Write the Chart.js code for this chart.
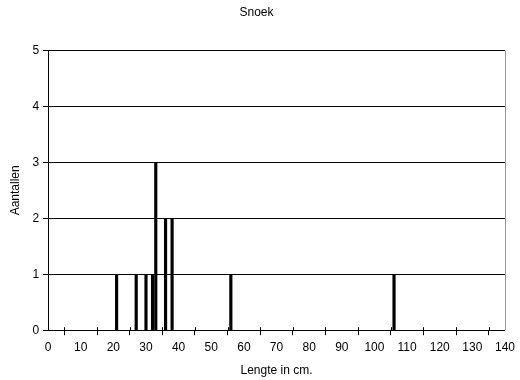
<!DOCTYPE html>
<html>
<head>
<meta charset="utf-8">
<script src="https://cdn.jsdelivr.net/npm/chart.js@4/dist/chart.umd.min.js"></script>
<style>
  body { margin: 0; background: #fff; }
</style>
</head>
<body>
<canvas id="snoek" width="520" height="380"></canvas>
<script>
const lengths = [21, 27, 30, 32, 33, 36, 38, 56, 106];
const counts = [1, 1, 1, 1, 3, 2, 2, 1, 1];

const FONT = "'Liberation Sans', Arial, sans-serif";

// kleine tussenstreepjes op de x-as (elke 5 cm) en de rechterrand van het plotvlak
const extras = {
    id: "extras",
    afterDraw(chart) {
        const ctx = chart.ctx;
        const area = chart.chartArea;
        const x = chart.scales.x;
        ctx.save();
        ctx.strokeStyle = "#000";
        ctx.lineWidth = 1;
        for (let v = 5; v < 140; v += 10) {
            const px = Math.round(x.getPixelForValue(v)) + 0.5;
            ctx.beginPath();
            ctx.moveTo(px, area.bottom);
            ctx.lineTo(px, area.bottom - 3);
            ctx.stroke();
        }
        ctx.strokeStyle = "#999";
        ctx.beginPath();
        ctx.moveTo(Math.round(area.right) + 0.5, area.top);
        ctx.lineTo(Math.round(area.right) + 0.5, area.bottom);
        ctx.stroke();
        ctx.restore();
    }
};

new Chart(document.getElementById("snoek"), {
    type: "bar",
    data: {
        datasets: [
            {
                label: "Snoek",
                data: lengths.map((l, i) => ({ x: l, y: counts[i] })),
                backgroundColor: "#000",
                barThickness: 2.5
            }
        ]
    },
    options: {
        responsive: false,
        animation: false,
        layout: {
            padding: { left: 8, right: 15, top: 0, bottom: 2 }
        },
        plugins: {
            legend: { display: false },
            tooltip: { enabled: false },
            title: {
                display: true,
                text: "Snoek",
                color: "#000",
                font: { family: FONT, size: 12, weight: "normal" },
                padding: { top: 5, bottom: 31 }
            }
        },
        scales: {
            x: {
                type: "linear",
                min: 0,
                max: 140,
                offset: false,
                grid: { drawOnChartArea: false, color: "#000", tickLength: 5 },
                border: { color: "#000" },
                ticks: {
                    stepSize: 10,
                    color: "#000",
                    font: { family: FONT, size: 12 },
                    maxRotation: 0,
                    padding: 5
                },
                title: {
                    display: true,
                    text: "Lengte in cm.",
                    color: "#000",
                    font: { family: FONT, size: 12 },
                    padding: { top: 4, bottom: 0 }
                }
            },
            y: {
                min: 0,
                max: 5,
                grid: { color: "#000", tickLength: 5 },
                border: { color: "#000" },
                ticks: {
                    stepSize: 1,
                    color: "#000",
                    font: { family: FONT, size: 12 },
                    padding: 4
                },
                title: {
                    display: true,
                    text: "Aantallen",
                    color: "#000",
                    font: { family: FONT, size: 12 },
                    padding: { top: 0, bottom: 6 }
                }
            }
        }
    },
    plugins: [extras]
});
</script>
</body>
</html>
